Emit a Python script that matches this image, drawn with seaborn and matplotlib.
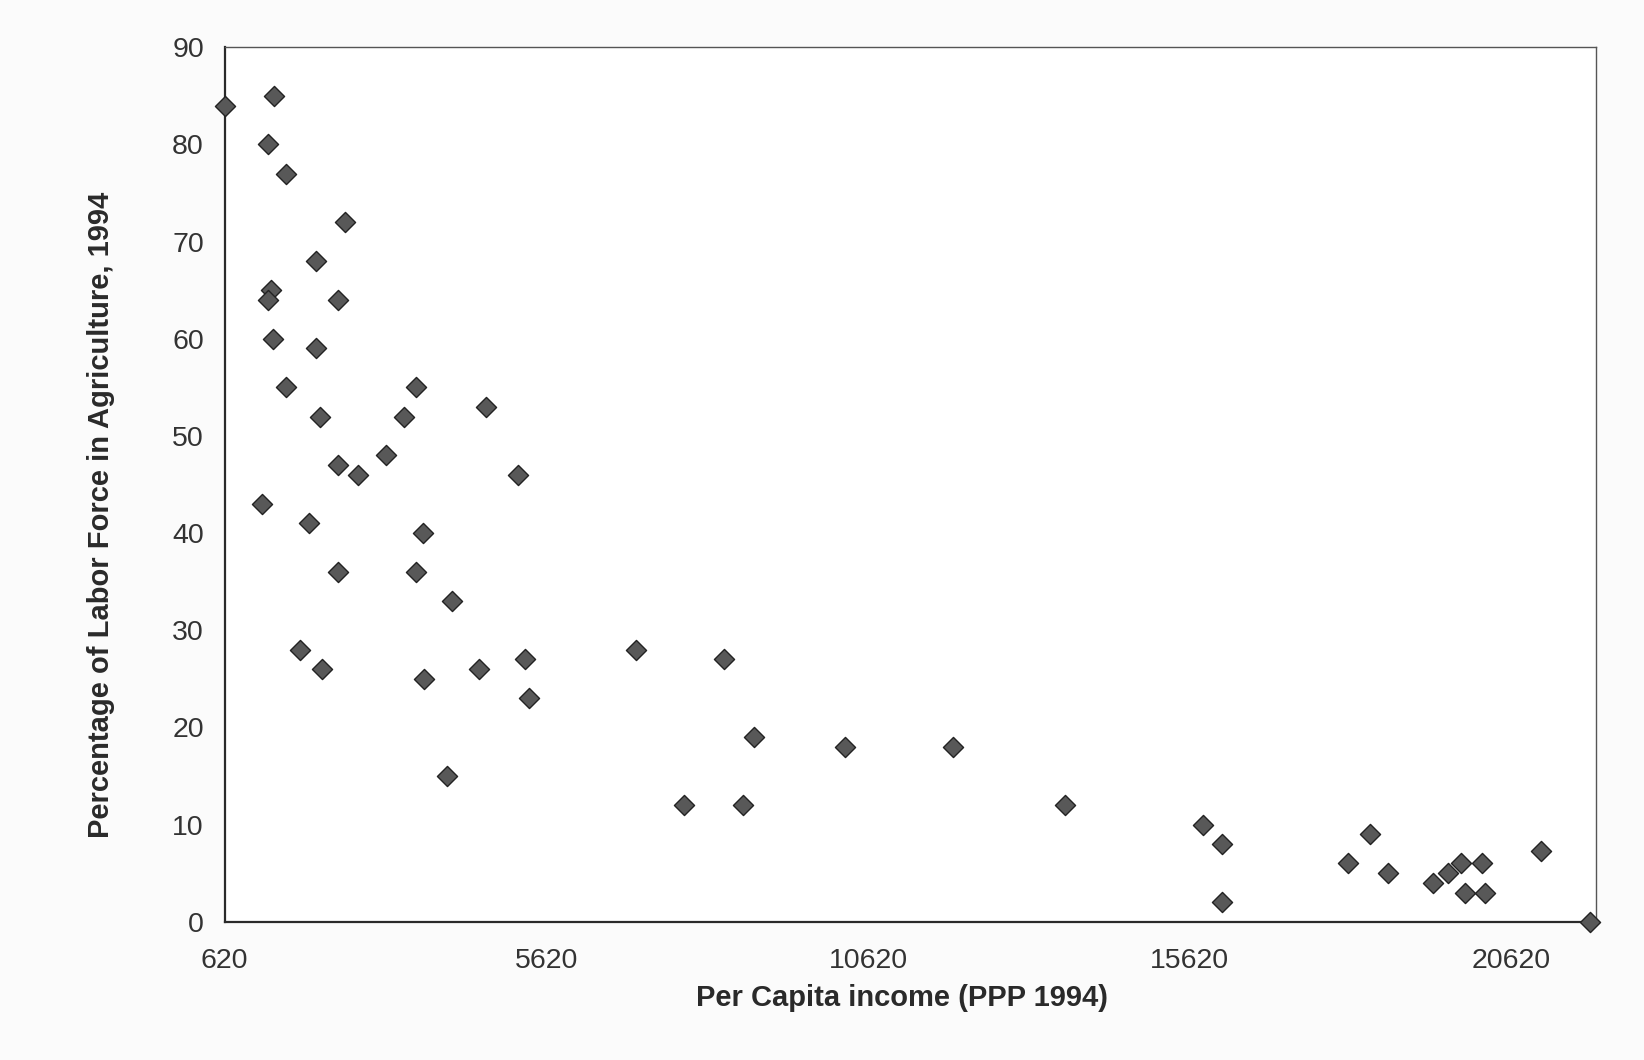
import matplotlib
matplotlib.use("Agg")
import matplotlib.pyplot as plt
import seaborn as sns
import pandas as pd

# Per capita income (PPP 1994) and % labor force in agriculture, 1994
income = [620, 1392, 1288, 1574, 2491, 2035, 1340, 1288, 2387, 1366, 2035, 1574,
          3589, 2102, 3413, 4677, 2387, 2698, 3123, 5175, 1195, 1931, 3698, 2387,
          3589, 4154, 1791, 2138, 3724, 4574, 5288, 5356, 4081,
          7008, 8389, 8854, 10264, 11947, 7752, 8675, 13677,
          15828, 16122, 16122, 18075, 18420, 18707, 19410, 19633, 19844, 20163,
          19908, 20210, 21089, 21848]
agri = [84, 85, 80, 77, 72, 68, 65, 64, 64, 60, 59, 55,
        55, 52, 52, 53, 47, 46, 48, 46, 43, 41, 40, 36,
        36, 33, 28, 26, 25, 26, 27, 23, 15,
        28, 27, 19, 18, 18, 12, 12, 12,
        10, 8, 2, 6, 9, 5, 4, 5, 6, 6,
        3, 3, 7.3, 0]

x_ticks = [620, 5620, 10620, 15620, 20620]
y_ticks = [0, 10, 20, 30, 40, 50, 60, 70, 80, 90]

df = pd.DataFrame({"income": income, "agri": agri})

sns.set_theme(style="white")
plt.rcParams["font.family"] = ["Liberation Sans", "DejaVu Sans"]

fig = plt.figure(figsize=(16.44, 10.60), dpi=100)
fig.patch.set_facecolor("#fbfbfb")
ax = fig.add_axes([0.1367, 0.1304, 0.8338, 0.8250])
ax.set_facecolor("white")

sns.scatterplot(data=df, x="income", y="agri", ax=ax, marker="D", s=105,
                color="#585858", edgecolor="#222222", linewidth=1.0,
                clip_on=False, zorder=5, legend=False)

ax.set_xlim(620, 21930)
ax.set_ylim(0, 90)
ax.set_xticks(x_ticks)
ax.set_yticks(y_ticks)
ax.set_xticklabels([str(v) for v in x_ticks])
ax.set_yticklabels([str(v) for v in y_ticks])
ax.tick_params(axis="both", length=0, labelsize=20.5, colors="#333333")
ax.tick_params(axis="x", pad=19)
ax.tick_params(axis="y", pad=15)

for side in ["left", "bottom"]:
    ax.spines[side].set_color("#2a2a2a")
    ax.spines[side].set_linewidth(1.6)
for side in ["top", "right"]:
    ax.spines[side].set_color("#555555")
    ax.spines[side].set_linewidth(1.0)

ax.set_xlabel("Per Capita income (PPP 1994)", fontsize=21, fontweight="bold",
              color="#2a2a2a")
ax.set_ylabel("Percentage of Labor Force in Agriculture, 1994", fontsize=21,
              fontweight="bold", color="#2a2a2a")
ax.xaxis.set_label_coords(0.494, -0.071)
ax.yaxis.set_label_coords(-0.080, 0.465)

fig.savefig("out.png", dpi=100, facecolor=fig.get_facecolor())
